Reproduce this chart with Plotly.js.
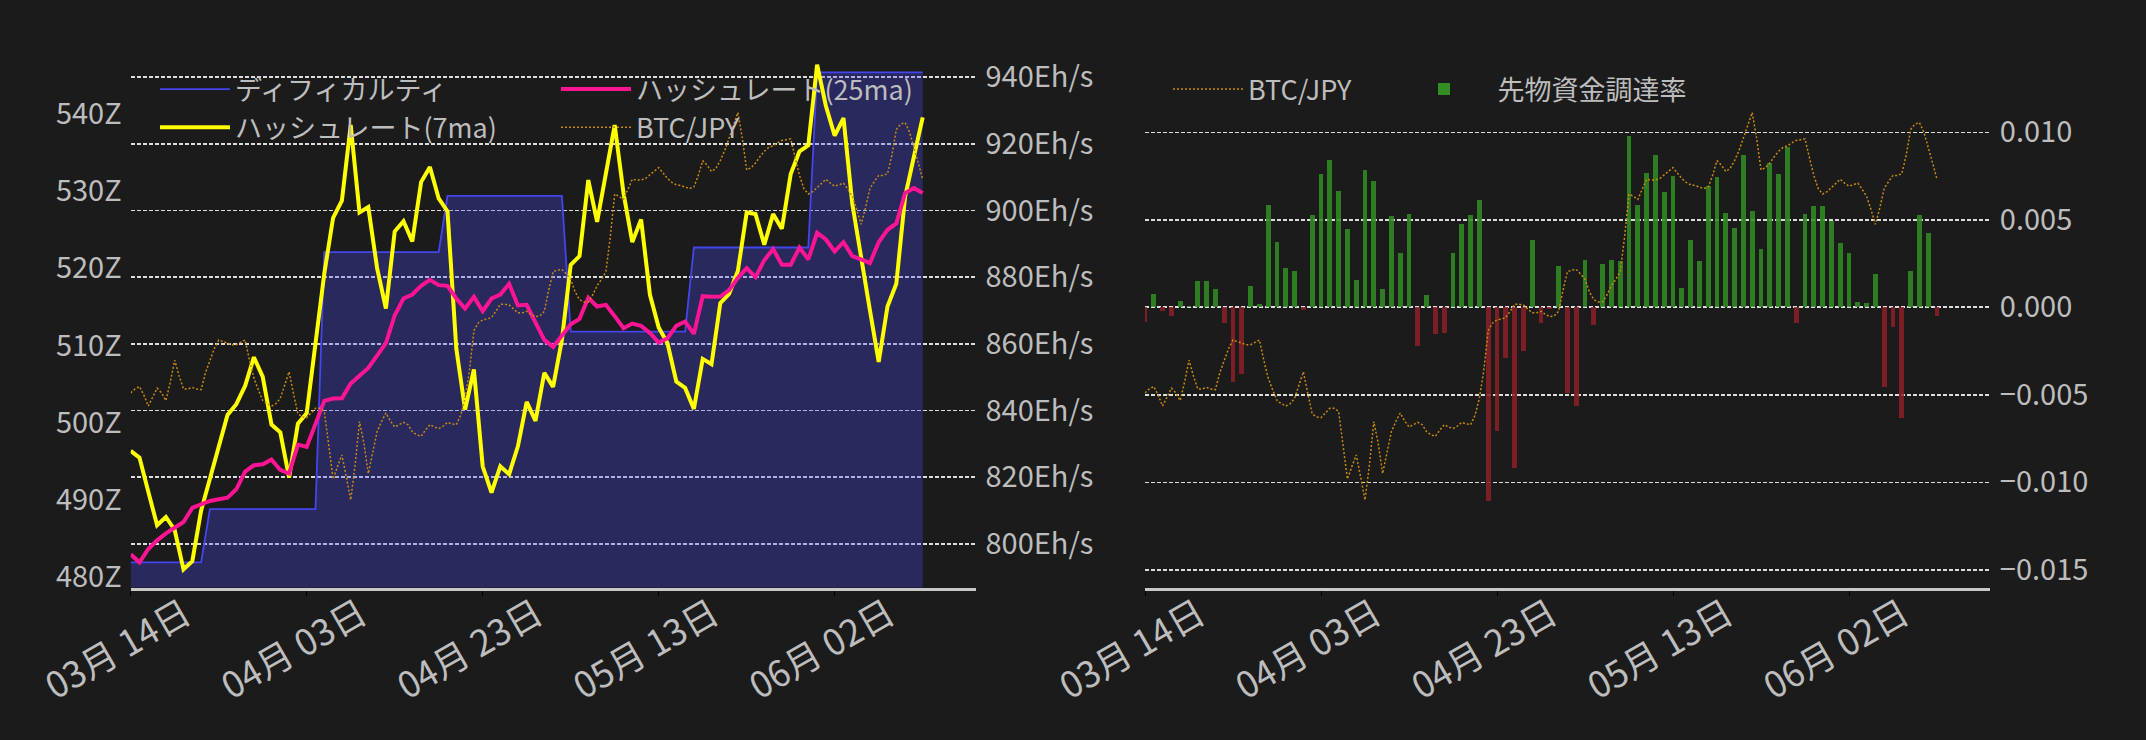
<!DOCTYPE html>
<html>
<head>
<meta charset="utf-8">
<script src="https://cdn.plot.ly/plotly-3.0.1.min.js"></script>
<style>
  html, body { margin: 0; padding: 0; background: #1b1b1b; }
  #plot { width: 2146px; height: 740px; }
</style>
</head>
<body>
<div id="plot"></div>
<script>
// daily series, 2025-03-14 .. 2025-06-12
var startDay = '2025-03-14'
var dayCount = 91

// difficulty (Z hashes)
var difficulty = [
   481.9, 481.9, 481.9, 481.9, 481.9, 481.9, 481.9, 481.9, 481.9,
   488.8, 488.8, 488.8, 488.8, 488.8, 488.8, 488.8, 488.8, 488.8, 488.8, 488.8, 488.8, 488.8,
   522.1, 522.1, 522.1, 522.1, 522.1, 522.1, 522.1, 522.1, 522.1, 522.1, 522.1, 522.1, 522.1, 522.1,
   529.4, 529.4, 529.4, 529.4, 529.4, 529.4, 529.4, 529.4, 529.4, 529.4, 529.4, 529.4, 529.4, 529.4,
   511.8, 511.8, 511.8, 511.8, 511.8, 511.8, 511.8, 511.8, 511.8, 511.8, 511.8, 511.8, 511.8, 511.8,
   522.7, 522.7, 522.7, 522.7, 522.7, 522.7, 522.7, 522.7, 522.7, 522.7, 522.7, 522.7, 522.7, 522.7,
   545.4, 545.4, 545.4, 545.4, 545.4, 545.4, 545.4, 545.4, 545.4, 545.4, 545.4, 545.4, 545.4
]

// hashrate 7 day average (Eh/s)
var hash7 = [
   827.9, 825.9, 815.7, 805.6, 808.1, 804.2, 792.4, 794.8, 810.0, 819.4,
   829.8, 838.7, 841.9, 847.4, 856.0, 850.2, 835.8, 833.5, 819.9, 836.1,
   839.2, 859.6, 881.1, 897.8, 902.9, 925.6, 899.4, 901.0, 882.7, 870.6,
   893.7, 896.8, 890.7, 908.5, 913.0, 903.6, 899.7, 858.6, 840.3, 852.3,
   823.3, 815.4, 823.3, 820.9, 829.3, 842.6, 836.9, 851.3, 847.1, 861.2,
   883.7, 886.3, 909.1, 896.6, 910.9, 925.6, 905.2, 890.5, 897.3, 874.8,
   864.9, 860.2, 848.7, 846.8, 840.5, 855.5, 853.9, 872.2, 875.0, 881.9,
   899.4, 898.9, 889.7, 898.9, 894.5, 910.9, 917.7, 919.5, 943.7, 931.3,
   922.4, 927.7, 902.0, 885.3, 870.1, 854.6, 871.2, 878.0, 904.1, 916.1,
   927.9
]

// hashrate 25 day average (Eh/s)
var hash25 = [
   796.9, 794.5, 798.5, 801.1, 803.2, 805.0, 806.6, 810.8, 812.0, 812.9,
   813.4, 813.9, 816.4, 821.7, 823.6, 823.9, 825.3, 822.2, 821.1, 829.8,
   829.1, 836.1, 842.9, 843.6, 843.7, 848.1, 850.5, 852.8, 856.5, 860.2,
   868.5, 873.6, 874.8, 877.4, 879.2, 877.6, 877.4, 873.6, 870.6, 874.1,
   869.8, 873.6, 874.8, 878.0, 871.5, 871.7, 866.4, 861.2, 859.1, 862.3,
   865.9, 867.5, 873.8, 871.2, 871.7, 868.3, 864.7, 866.1, 865.4, 863.3,
   860.4, 861.7, 865.4, 866.7, 863.0, 874.3, 874.1, 874.2, 876.1, 879.8,
   882.7, 880.0, 885.1, 888.4, 883.7, 883.7, 888.9, 885.3, 893.3, 891.3,
   887.7, 890.5, 886.3, 885.3, 884.2, 890.5, 894.2, 896.1, 905.2, 906.7,
   905.2
]

// futures funding rate, daily
var funding = [
   -0.00082, 0.00076, -0.00019, -0.00050, 0.00036, 0.00008, 0.00150, 0.00150, 0.00105, -0.00088,
   -0.00425, -0.00379, 0.00122, 0.00019, 0.00585, 0.00373, 0.00225, 0.00208, -0.00013, 0.00528,
   0.00762, 0.00842, 0.00665, 0.00448, 0.00156, 0.00785, 0.00722, 0.00105, 0.00522, 0.00311,
   0.00533, -0.00219, 0.00070, -0.00150, -0.00145, 0.00311, 0.00476, 0.00528, 0.00613, -0.01105,
   -0.00705, -0.00288, -0.00916, -0.00248, 0.00385, -0.00088, -0.00008, 0.00236, -0.00488, -0.00562,
   0.00271, -0.00099, 0.00248, 0.00271, 0.00265, 0.00979, 0.00585, 0.00768, 0.00871, 0.00659,
   0.00751, 0.00110, 0.00385, 0.00265, 0.00693, 0.00745, 0.00539, 0.00453, 0.00871, 0.00551,
   0.00333, 0.00823, 0.00762, 0.00916, -0.00088, 0.00533, 0.00579, 0.00579, 0.00495, 0.00368,
   0.00311, 0.00030, 0.00025, 0.00191, -0.00453, -0.00110, -0.00631, 0.00208, 0.00528, 0.00425,
   -0.00048
]

// BTC/JPY every 12 hours (万円)
var btcjpy = [
   1238, 1243, 1246, 1235, 1221, 1233, 1244, 1238, 1228, 1252,
   1280, 1260, 1243, 1243, 1245, 1243, 1242, 1264, 1281, 1295,
   1306, 1304, 1301, 1300, 1300, 1303, 1306, 1280, 1257, 1242,
   1228, 1224, 1221, 1224, 1231, 1248, 1265, 1237, 1211, 1207,
   1206, 1212, 1218, 1218, 1214, 1171, 1127, 1143, 1158, 1130,
   1100, 1145, 1201, 1173, 1134, 1161, 1188, 1201, 1212, 1202,
   1194, 1197, 1200, 1197, 1188, 1184, 1182, 1190, 1197, 1194,
   1192, 1195, 1200, 1198, 1197, 1209, 1231, 1267, 1318, 1328,
   1332, 1333, 1335, 1343, 1352, 1352, 1351, 1346, 1341, 1341,
   1343, 1339, 1336, 1337, 1343, 1370, 1394, 1396, 1397, 1391,
   1384, 1368, 1358, 1355, 1355, 1364, 1376, 1384, 1394, 1439,
   1494, 1491, 1487, 1500, 1513, 1512, 1512, 1514, 1519, 1524,
   1528, 1521, 1514, 1509, 1506, 1505, 1503, 1501, 1503, 1518,
   1537, 1531, 1523, 1527, 1537, 1550, 1566, 1583, 1599, 1566,
   1525, 1528, 1534, 1542, 1549, 1554, 1556, 1560, 1563, 1564,
   1565, 1541, 1518, 1501, 1494, 1497, 1502, 1508, 1513, 1508,
   1504, 1506, 1508, 1500, 1491, 1474, 1455, 1476, 1501, 1510,
   1518, 1518, 1520, 1544, 1577, 1584, 1586, 1574, 1555, 1534,
   1513
]

var dateTickVals = ['2025-03-14', '2025-04-03', '2025-04-23', '2025-05-13', '2025-06-02']
var dateTickText = ['03月 14日', '04月 03日', '04月 23日', '05月 13日', '06月 02日']
var diffTickVals = [480, 490, 500, 510, 520, 530, 540]
var diffTickText = ['480Z', '490Z', '500Z', '510Z', '520Z', '530Z', '540Z']
var hashTickVals = [800, 820, 840, 860, 880, 900, 920, 940]
var hashTickText = ['800Eh/s', '820Eh/s', '840Eh/s', '860Eh/s', '880Eh/s', '900Eh/s', '920Eh/s', '940Eh/s']
var fundTickVals = [-0.015, -0.01, -0.005, 0, 0.005, 0.01]
var fundTickText = ['\u22120.015', '\u22120.010', '\u22120.005', '0.000', '0.005', '0.010']

// timestamps
function stamps(n, hours) {
   var t0 = Date.parse(startDay + 'T00:00:00Z')
   var out = []
   for (var i = 0; i < n; i++) {
      out.push(new Date(t0 + i * hours * 3600000).toISOString().slice(0, 16).replace('T', ' '))
   }
   return out
}
var days = stamps(dayCount, 24)
var halfDays = stamps(btcjpy.length, 12)

var posX = [], posY = [], negX = [], negY = []
funding.forEach(function (v, i) {
   if (v >= 0) { posX.push(days[i]); posY.push(v) }
   else { negX.push(days[i]); negY.push(v) }
})

var FONT = 'Noto Sans CJK JP'
var TXT = '#bdbdbd'
var BG = '#1b1b1b'
var W = 2146, H = 740
var yDom = [(H - 587.5) / H, (H - 50) / H]
var GRID = {showgrid: true, gridcolor: '#dcdcdc', gridwidth: 1.6, griddash: '4px,2px'}

var traces = [
   {
      x: days, y: difficulty, xaxis: 'x', yaxis: 'y',
      mode: 'lines', fill: 'tozeroy', fillcolor: 'rgba(77,77,250,0.3)',
      line: {width: 0}, showlegend: false, hoverinfo: 'skip'
   },
   {
      name: 'ディフィカルティ', legend: 'legend',
      x: days, y: difficulty, xaxis: 'x', yaxis: 'y',
      mode: 'lines', line: {color: '#4545ee', width: 1.8}
   },
   {
      name: 'ハッシュレート(7ma)', legend: 'legend',
      x: days, y: hash7, xaxis: 'x', yaxis: 'y2',
      mode: 'lines', line: {color: '#ffff00', width: 4}
   },
   {
      name: 'ハッシュレート(25ma)', legend: 'legend2',
      x: days, y: hash25, xaxis: 'x', yaxis: 'y2',
      mode: 'lines', line: {color: '#ff1493', width: 4}
   },
   {
      name: 'BTC/JPY', legend: 'legend2',
      x: halfDays, y: btcjpy, xaxis: 'x', yaxis: 'y3',
      mode: 'lines', line: {color: '#c98a10', width: 1.5, dash: '2px,2px'}
   },
   {
      name: '先物資金調達率', legend: 'legend4',
      type: 'bar', x: posX, y: posY, xaxis: 'x2', yaxis: 'y4',
      width: 0.55 * 86400000,
      marker: {color: 'rgb(51,142,36)', opacity: 0.85, line: {width: 0}}
   },
   {
      name: '先物資金調達率', showlegend: false,
      type: 'bar', x: negX, y: negY, xaxis: 'x2', yaxis: 'y4',
      width: 0.55 * 86400000,
      marker: {color: 'rgb(139,32,40)', opacity: 0.85, line: {width: 0}}
   },
   {
      name: 'BTC/JPY', legend: 'legend3',
      x: halfDays, y: btcjpy, xaxis: 'x2', yaxis: 'y5',
      mode: 'lines', line: {color: '#c98a10', width: 1.5, dash: '2px,2px'}
   }
]

function dateAxis(domain, anchor) {
   return {
      domain: domain, anchor: anchor, type: 'date',
      range: ['2025-03-14', '2025-06-18'],
      tickmode: 'array', tickvals: dateTickVals, ticktext: dateTickText,
      tickangle: -30, ticklabelshift: 54, ticklabelstandoff: -16,
      tickfont: {family: FONT, size: 36, color: TXT},
      ticks: 'outside', ticklen: 5, tickcolor: '#000000',
      showline: true, linecolor: '#c8c8c8', linewidth: 3,
      showgrid: false, zeroline: false, fixedrange: true
   }
}

function legendAt(px) {
   return {
      x: px / W, y: (H - 65) / H, xanchor: 'left', yanchor: 'top',
      bgcolor: 'rgba(0,0,0,0)', borderwidth: 0,
      font: {family: FONT, size: 27, color: TXT},
      itemwidth: 70
   }
}

var layout = {
   width: W, height: H,
   paper_bgcolor: BG, plot_bgcolor: BG,
   margin: {l: 0, r: 0, t: 0, b: 0},
   showlegend: true,
   bargap: 0,
   xaxis: dateAxis([130.7 / W, 975.5 / W], 'y'),
   xaxis2: dateAxis([1145 / W, 1989.8 / W], 'y4'),
   yaxis: {
      domain: yDom, anchor: 'x', side: 'left',
      range: [478.64, 548.29],
      tickmode: 'array', tickvals: diffTickVals, ticktext: diffTickText,
      tickfont: {family: FONT, size: 29, color: TXT},
      ticks: '', ticklabelstandoff: 8,
      showgrid: false, zeroline: false, showline: false
   },
   yaxis2: Object.assign({
      overlaying: 'y', anchor: 'x', side: 'right',
      range: [786.96, 948.1],
      tickmode: 'array', tickvals: hashTickVals, ticktext: hashTickText,
      tickfont: {family: FONT, size: 29, color: TXT},
      ticks: '', ticklabelstandoff: 9,
      zeroline: false, showline: false
   }, GRID),
   yaxis3: {
      overlaying: 'y', anchor: 'x', side: 'right',
      range: [987.33, 1679.45], visible: false
   },
   yaxis4: Object.assign({
      domain: yDom, anchor: 'x2', side: 'right',
      range: [-0.016011, 0.014703],
      tickmode: 'array', tickvals: fundTickVals, ticktext: fundTickText,
      tickfont: {family: FONT, size: 29, color: TXT},
      ticks: '', ticklabelstandoff: 9,
      zeroline: false, showline: false
   }, GRID),
   yaxis5: {
      overlaying: 'y4', anchor: 'x2', side: 'left',
      range: [987.33, 1679.45], visible: false
   },
   legend: legendAt(155),
   legend2: legendAt(556),
   legend3: legendAt(1168),
   legend4: Object.assign(legendAt(1390.5), {itemwidth: 97})
}

Plotly.newPlot('plot', traces, layout, {staticPlot: true, displayModeBar: false})
</script>
</body>
</html>
